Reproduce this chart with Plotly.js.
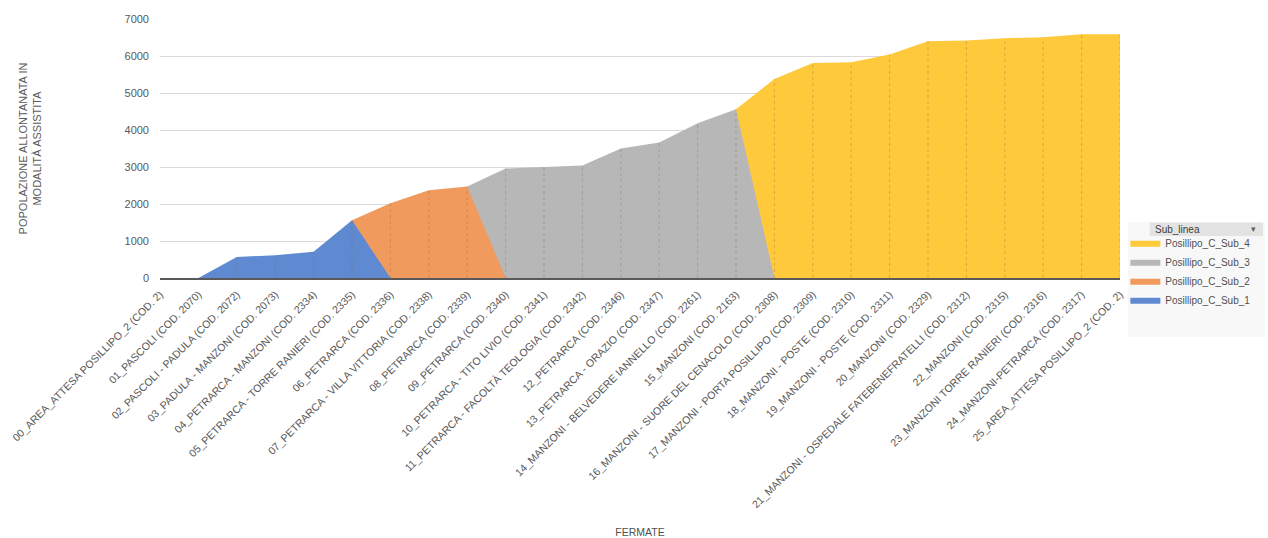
<!DOCTYPE html>
<html><head><meta charset="utf-8">
<script src="https://cdn.plot.ly/plotly-3.0.1.min.js"></script>
<style>body{margin:0;background:#fff}#chart{width:1268px;height:538px}</style>
</head><body><div id="chart"></div>
<script>
const categories = [
 "00_AREA_ATTESA POSILLIPO_2 (COD. 2)",
 "01_PASCOLI (COD. 2070)",
 "02_PASCOLI - PADULA (COD. 2072)",
 "03_PADULA - MANZONI (COD. 2073)",
 "04_PETRARCA - MANZONI (COD. 2334)",
 "05_PETRARCA - TORRE RANIERI (COD. 2335)",
 "06_PETRARCA (COD. 2336)",
 "07_PETRARCA - VILLA VITTORIA (COD. 2338)",
 "08_PETRARCA (COD. 2339)",
 "09_PETRARCA (COD. 2340)",
 "10_PETRARCA - TITO LIVIO (COD. 2341)",
 "11_PETRARCA - FACOLTÀ TEOLOGIA (COD. 2342)",
 "12_PETRARCA (COD. 2346)",
 "13_PETRARCA - ORAZIO (COD. 2347)",
 "14_MANZONI - BELVEDERE IANNELLO (COD. 2261)",
 "15_MANZONI (COD. 2163)",
 "16_MANZONI - SUORE DEL CENACOLO (COD. 2308)",
 "17_MANZONI - PORTA POSILLIPO (COD. 2309)",
 "18_MANZONI - POSTE (COD. 2310)",
 "19_MANZONI - POSTE (COD. 2311)",
 "20_MANZONI (COD. 2329)",
 "21_MANZONI - OSPEDALE FATEBENEFRATELLI (COD. 2312)",
 "22_MANZONI (COD. 2315)",
 "23_MANZONI TORRE RANIERI (COD. 2316)",
 "24_MANZONI-PETRARCA (COD. 2317)",
 "25_AREA_ATTESA POSILLIPO_2 (COD. 2)"
];
const sub1 = [0,0,570,615,710,1560,0,0,0,0,0,0,0,0,0,0,0,0,0,0,0,0,0,0,0,0];
const sub2 = [0,0,0,0,0,1560,2020,2370,2470,0,0,0,0,0,0,0,0,0,0,0,0,0,0,0,0,0];
const sub3 = [0,0,0,0,0,0,0,0,2470,2960,3000,3040,3500,3660,4180,4560,0,0,0,0,0,0,0,0,0,0];
const sub4 = [0,0,0,0,0,0,0,0,0,0,0,0,0,0,0,4560,5380,5810,5830,6040,6400,6420,6480,6510,6590,6590];
const seriesNames = ["Posillipo_C_Sub_4","Posillipo_C_Sub_3","Posillipo_C_Sub_2","Posillipo_C_Sub_1"];
const seriesColors = ["#ffc93c","#b7b7b7","#f09a5e","#5f8ad2"];
const seriesData = [sub4, sub3, sub2, sub1];

const traces = seriesData.map((d,k)=>({
  type:'scatter', mode:'lines', x:categories, y:d, name:seriesNames[k],
  fill:'tozeroy', fillcolor:seriesColors[k], line:{width:0, color:seriesColors[k]},
  hoverinfo:'skip'
}));
// drop lines from each point
const dx=[], dy=[];
categories.forEach((c,i)=>{
  const top = Math.max(sub1[i],sub2[i],sub3[i],sub4[i]);
  if(top>0){dx.push(c,c,null); dy.push(0,top,null);}
});
traces.push({type:'scatter',mode:'lines',x:dx,y:dy,showlegend:false,hoverinfo:'skip',
  line:{color:'rgba(130,105,50,0.32)',width:1,dash:'3px,3px'}});

const font = {family:'"Liberation Sans", Arial, sans-serif', color:'#595959'};
const layout = {
  width:1268, height:538,
  margin:{l:160, r:148, t:19, b:260},
  paper_bgcolor:'#fff', plot_bgcolor:'#fff',
  font:font,
  showlegend:true,
  legend:{x:1.141, xanchor:'right', y:0.192, yanchor:'top', bgcolor:'rgba(0,0,0,0)',
    font:{family:font.family, color:'#505050', size:10}, itemwidth:30, tracegroupgap:0},
  xaxis:{type:'category', range:[0,25], showgrid:false, tickangle:-45,
    tickfont:{size:10.6, color:'#595959'}, ticks:'', showline:true, linecolor:'#595959', linewidth:2,
    ticklabelstandoff:4,
    title:{text:'FERMATE', font:{size:10.5, color:'#505050'}, standoff:20}},
  yaxis:{range:[0,7000], dtick:1000, showgrid:true, gridcolor:'#d9d9d9', gridwidth:1,
    zeroline:false, showline:false, ticks:'', tickfont:{size:11, color:'#595959'},
    ticklabelstandoff:10,
    title:{text:'POPOLAZIONE ALLONTANATA IN<br>MODALITÀ ASSISTITA', font:{size:11, color:'#595959'}, standoff:80}},
  shapes:[
    {type:'rect', xref:'paper', yref:'paper', x0:1.008, x1:1.151, y0:-0.228, y1:0.216,
     fillcolor:'#f8f8f8', line:{width:0}},
    {type:'rect', xref:'paper', yref:'paper', x0:1.031, x1:1.149, y0:0.162, y1:0.214,
     fillcolor:'#e3e3e3', line:{width:0}}],
  annotations:[
    {xref:'paper', yref:'paper', x:1.034, y:0.189, xanchor:'left', yanchor:'middle', showarrow:false,
     text:'Sub_linea', font:{size:10, color:'#404040', family:font.family}},
    {xref:'paper', yref:'paper', x:1.144, y:0.189, xanchor:'right', yanchor:'middle', showarrow:false,
     text:'▾', font:{size:9, color:'#606060', family:font.family}}
  ]
};
Plotly.newPlot('chart', traces, layout, {displayModeBar:false, staticPlot:true});
</script></body></html>
